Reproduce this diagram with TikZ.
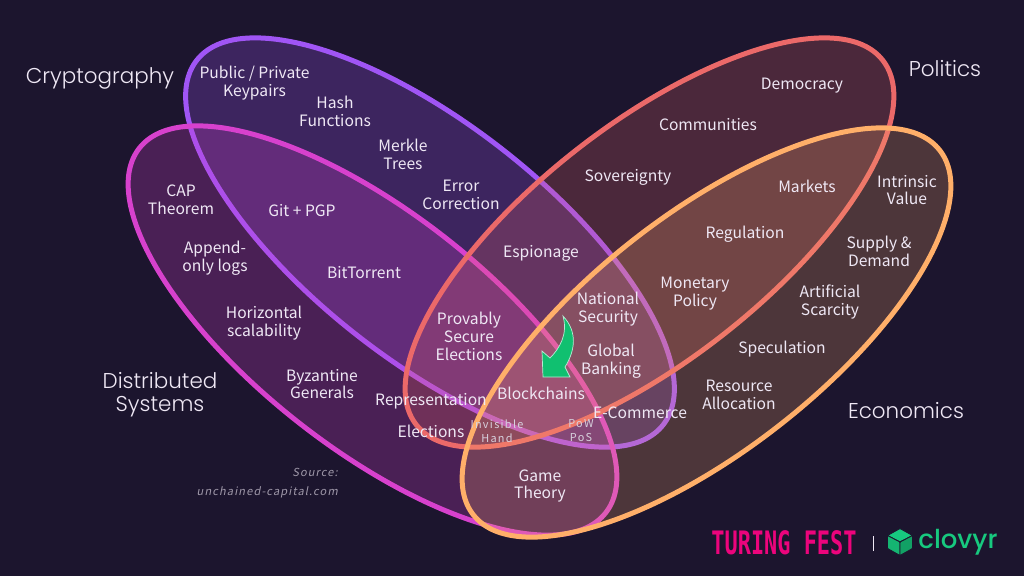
\documentclass[tikz,border=0pt]{standalone}
\usepackage{fontspec}
\setmainfont{Noto Sans CJK JP}
\newfontfamily\headfont{Poppins Light}
\newfontfamily\logofont{Poppins Medium}
\newfontfamily\pixelfont{DejaVu Sans Mono}
\definecolor{bgdark}{HTML}{1C152E}
\definecolor{cryptc}{HTML}{A055F5}
\definecolor{distc}{HTML}{D741CD}
\definecolor{politc}{HTML}{EB6969}
\definecolor{econc}{HTML}{FFAF69}
\definecolor{labelc}{HTML}{EFE8F5}
\definecolor{arrowc}{HTML}{10C070}
\definecolor{clovyrc}{HTML}{17C97F}
\tikzset{
  venn/.style={line width=1.42pt,fill opacity=.25,draw opacity=1},
  lbl/.style={align=center,inner sep=0pt,yshift=-.01cm,text=labelc,font=\fontsize{4.45}{5.1}\selectfont},
  tiny/.style={align=center,inner sep=0pt,text=labelc!90!black,font=\fontsize{3.1}{4}\addfontfeature{LetterSpace=12}\selectfont},
  head/.style={align=center,inner sep=0pt,text=labelc,font=\fontsize{6.1}{6.5}\headfont\selectfont},
  cubeface/.style={draw=bgdark,line width=.25pt,line join=round},
}

\begin{document}
\begin{tikzpicture}
    \useasboundingbox (0,0) rectangle (10.24,5.76);
    \fill[bgdark] (0,0) rectangle (10.24,5.76);

    \draw[venn,cryptc,fill=cryptc,shift={(4.30,3.335)},rotate=-38] (0,0) ellipse [x radius=2.96, y radius=1.18];
    \draw[venn,distc,fill=distc,shift={(3.725,2.455)},rotate=-38] (0,0) ellipse [x radius=2.96, y radius=1.18];
    \draw[venn,politc,fill=politc,fill opacity=.23,shift={(6.495,3.335)},rotate=38] (0,0) ellipse [x radius=2.96, y radius=1.18];
    \draw[venn,econc,fill=econc,fill opacity=.22,shift={(7.065,2.435)},rotate=38] (0,0) ellipse [x radius=2.96, y radius=1.18];

    % circle titles
    \node[head] (cryptography) at (1.00,4.98) {Cryptography};
    \node[head] (distributed) at (1.60,1.81) {Distributed\\Systems};
    \node[head] (politics) at (9.45,5.07) {Politics};
    \node[head] (economics) at (9.06,1.65) {Economics};

    \node[lbl] (keypairs) at (2.545,4.94) {Public / Private\\Keypairs};
    \node[lbl] (hash) at (3.35,4.66) {Hash\\Functions};
    \node[lbl] (merkle) at (4.03,4.23) {Merkle\\Trees};
    \node[lbl] (error) at (4.61,3.82) {Error\\Correction};
    \node[lbl] (cap) at (1.81,3.77) {CAP\\Theorem};
    \node[lbl] (git) at (3.02,3.66) {Git + PGP};
    \node[lbl] (append) at (2.15,3.19) {Append-\\only logs};
    \node[lbl] (bittorrent) at (3.64,3.04) {BitTorrent};
    \node[lbl] (horizontal) at (2.64,2.54) {Horizontal\\scalability};
    \node[lbl] (byzantine) at (3.22,1.93) {Byzantine\\Generals};
    \node[lbl] (democracy) at (8.02,4.91) {Democracy};
    \node[lbl] (communities) at (7.08,4.52) {Communities};
    \node[lbl] (sovereignty) at (6.28,4.00) {Sovereignty};
    \node[lbl] (markets) at (8.07,3.91) {Markets};
    \node[lbl] (intrinsic) at (9.07,3.87) {Intrinsic\\Value};
    \node[lbl] (regulation) at (7.45,3.43) {Regulation};
    \node[lbl] (supply) at (8.79,3.26) {Supply \&\\Demand};
    \node[lbl] (espionage) at (5.41,3.24) {Espionage};
    \node[lbl] (monetary) at (6.95,2.83) {Monetary\\Policy};
    \node[lbl] (artificial) at (8.30,2.75) {Artificial\\Scarcity};
    \node[lbl] (national) at (6.08,2.68) {National\\Security};
    \node[lbl] (provably) at (4.69,2.41) {Provably\\Secure\\Elections};
    \node[lbl] (banking) at (6.11,2.16) {Global\\Banking};
    \node[lbl] (speculation) at (7.82,2.28) {Speculation};
    \node[lbl] (resource) at (7.39,1.82) {Resource\\Allocation};
    \node[lbl] (blockchains) at (5.41,1.84) {Blockchains};
    \node[lbl] (representation) at (4.31,1.76) {Representation};
    \node[lbl] (ecommerce) at (6.40,1.64) {E-Commerce};
    \node[lbl] (elections) at (4.31,1.46) {Elections};
    \node[tiny] (invisible) at (4.97,1.45) {Invisible\\Hand};
    \node[tiny] (pow) at (5.81,1.45) {PoW\\PoS};
    \node[lbl] (game) at (5.40,0.91) {Game\\Theory};
    \node[tiny,align=right,anchor=east,text=labelc!62!bgdark,font=\fontsize{3.15}{5.5}\addfontfeature{LetterSpace=10,FakeSlant=.2}\selectfont] (source) at (3.385,0.93) {Source:\\unchained-capital.com};

    % green arrow
    \fill[arrowc,draw=white!70!arrowc,line width=.2pt] (5.63,2.60) .. controls (5.78,2.44) and (5.75,2.25) .. (5.65,2.09) -- (5.70,1.99) -- (5.43,1.99) -- (5.42,2.25) -- (5.50,2.18) .. controls (5.60,2.28) and (5.68,2.42) .. (5.63,2.60) -- cycle;

    % logos
    \node[inner sep=0pt,text=magenta!85!red,font=\fontsize{8.2}{8.2}\pixelfont\bfseries\selectfont,xscale=.76,yscale=1.12] (turing) at (7.84,0.33) {TURING FEST};
    \draw[labelc,line width=.3pt] (8.735,0.25) -- (8.735,0.40);
    \fill[clovyrc,cubeface,rounded corners=.2pt] (9.00,0.34) -- (8.875,0.405) -- (9.00,0.475) -- (9.125,0.405) -- cycle;
    \fill[clovyrc!90!black,cubeface,rounded corners=.2pt] (9.00,0.34) -- (8.875,0.405) -- (8.875,0.275) -- (9.00,0.205) -- cycle;
    \fill[clovyrc!80!black,cubeface,rounded corners=.2pt] (9.00,0.34) -- (9.125,0.405) -- (9.125,0.275) -- (9.00,0.205) -- cycle;
    \node[inner sep=0pt,text=clovyrc,font=\fontsize{7.4}{7.4}\logofont\selectfont] (clovyr) at (9.58,0.34) {clovyr};
\end{tikzpicture}
\end{document}
